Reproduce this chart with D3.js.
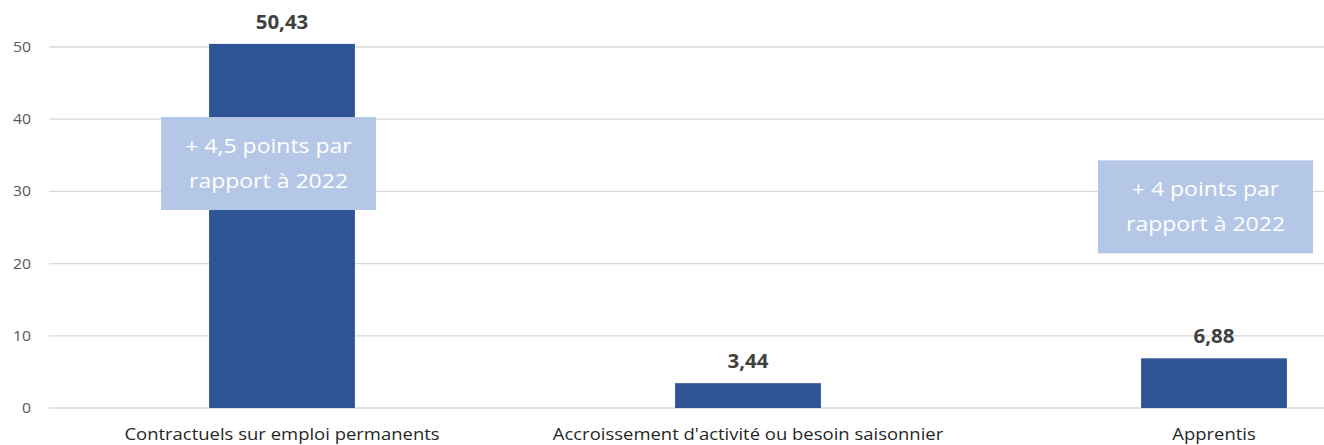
<!DOCTYPE html>
<html>
<head>
<meta charset="utf-8">
<script src="https://cdn.jsdelivr.net/npm/d3@7"></script>
<style>
  html, body { margin: 0; padding: 0; background: #ffffff; }
  svg { display: block; }
  text { font-family: "Open Sans", "Noto Sans", "Liberation Sans", sans-serif; }
</style>
</head>
<body>
<svg id="chart" width="1324" height="445"></svg>
<script>
// Répartition des contractuels (en %)
const categories = [
  "Contractuels sur emploi permanents",
  "Accroissement d'activité ou besoin saisonnier",
  "Apprentis"
];
const values = [50.43, 3.44, 6.88];
const valueLabels = ["50,43", "3,44", "6,88"];
const yTicks = [0, 10, 20, 30, 40, 50];

// Encadrés de commentaire : catégorie rattachée, valeur d'ancrage (haut de l'encadré), texte
const noteCategories = ["Contractuels sur emploi permanents", "Apprentis"];
const noteTops = [40.3, 34.3];
const noteLines = [
  ["+ 4,5 points par", "rapport à 2022"],
  ["+ 4 points par", "rapport à 2022"]
];

const svg = d3.select("#chart");
const W = 1324, H = 445;
const FONT = "'Open Sans', 'Noto Sans', sans-serif";
// Slightly widened glyphs for a Calibri-like text width
const widen = s => `scale(${s},1)`;

// The plot area continues past the right edge of the view
const plotLeft = 49, plotRight = 1447;
const y = d3.scaleLinear().domain([0, 50]).range([408, 47]);
const x = d3.scaleBand()
  .domain(categories)
  .range([plotLeft, plotRight])
  .paddingInner(0.687)
  .paddingOuter(0.3435);

// Gridlines
svg.append("g")
  .selectAll("line")
  .data(yTicks)
  .join("line")
  .attr("x1", plotLeft)
  .attr("x2", W)
  .attr("y1", d => y(d))
  .attr("y2", d => y(d))
  .attr("stroke", "#d9d9d9")
  .attr("stroke-width", 1.3);

// Y axis labels
const yAxis = d3.axisLeft(y).tickValues(yTicks).tickSize(0).tickPadding(0);
svg.append("g")
  .attr("transform", `translate(31,0)`)
  .call(yAxis)
  .call(g => g.select(".domain").remove())
  .call(g => g.selectAll("text")
    .attr("x", 0)
    .attr("transform", widen(1.13))
    .attr("fill", "#595959")
    .attr("font-size", 14)
    .attr("font-family", FONT)
    .attr("text-anchor", "end"));

// Bars
svg.append("g")
  .selectAll("rect")
  .data(values)
  .join("rect")
  .attr("x", (d, i) => x(categories[i]))
  .attr("width", x.bandwidth())
  .attr("y", d => y(d))
  .attr("height", d => y(0) - y(d))
  .attr("fill", "#2f5597");

// Value labels
svg.append("g")
  .selectAll("text")
  .data(values)
  .join("text")
  .attr("transform", (d, i) =>
    `translate(${x(categories[i]) + x.bandwidth() / 2},${y(d) - 15}) ${widen(1.05)}`)
  .attr("text-anchor", "middle")
  .attr("font-size", 19.5)
  .attr("font-weight", "bold")
  .attr("fill", "#404040")
  .text((d, i) => valueLabels[i]);

// Category labels
const xAxis = d3.axisBottom(x).tickSize(0).tickPadding(0);
svg.append("g")
  .attr("transform", `translate(0,${y(0)})`)
  .call(xAxis)
  .call(g => g.select(".domain").remove())
  .call(g => g.selectAll("text")
    .attr("dy", null)
    .attr("y", 32)
    .attr("transform", widen(1.12))
    .attr("fill", "#262626")
    .attr("font-size", 16.5)
    .attr("font-family", FONT));

// Comment boxes
const boxW = 215, boxH = 93;
const notes = svg.append("g")
  .selectAll("g")
  .data(noteCategories)
  .join("g")
  .attr("transform", (c, i) => {
    const cx = x(c) + x.bandwidth() / 2 + (i === 0 ? -13.5 : -8.5);
    return `translate(${cx - boxW / 2},${y(noteTops[i])})`;
  });

notes.append("rect")
  .attr("width", boxW)
  .attr("height", boxH)
  .attr("fill", "#b4c7e7");

notes.append("g")
  .attr("transform", `translate(${boxW / 2},0) ${widen(1.15)}`)
  .append("text")
  .attr("text-anchor", "middle")
  .attr("fill", "#ffffff")
  .attr("font-size", 20)
  .selectAll("tspan")
  .data((c, i) => noteLines[i])
  .join("tspan")
  .attr("x", 0)
  .attr("y", (d, j) => 36 + j * 35)
  .text(d => d);
</script>
</body>
</html>
